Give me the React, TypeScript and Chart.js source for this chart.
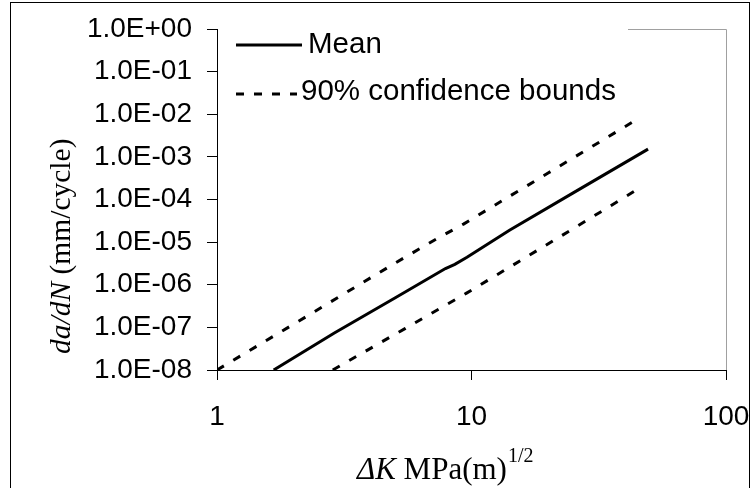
import React, { useEffect, useRef } from "react";
import { Chart, registerables } from "chart.js";

Chart.register(...registerables);

// ---- data ----
const meanX = [1.67, 2.88, 5.0, 7.9, 8.6, 9.6, 14.1, 25, 49.4];
const meanY = [1e-8, 7.3e-8, 4.9e-7, 2.4e-6, 3.0e-6, 4.4e-6, 1.9e-5, 1.41e-4, 1.52e-3];
const upperX = [1.0, 2.06, 5.0, 7.3, 9.3, 20, 45.6];
const upperY = [1e-8, 1.32e-7, 3.2e-6, 1.2e-5, 2.65e-5, 4.17e-4, 8.15e-3];
const lowerX = [2.85, 5.5, 9.56, 25.3, 46.4];
const lowerY = [1e-8, 9.5e-8, 6.35e-7, 2.13e-5, 1.95e-4];

const xTickValues = [1, 10, 100];
const xTickLabels = ["1", "10", "100"];
const yTickValues = [1e-8, 1e-7, 1e-6, 1e-5, 1e-4, 1e-3, 1e-2, 1e-1, 1];
const yTickLabels = [
  "1.0E-08", "1.0E-07", "1.0E-06", "1.0E-05", "1.0E-04",
  "1.0E-03", "1.0E-02", "1.0E-01", "1.0E+00",
];
const legendLabels = ["Mean", "90% confidence bounds"];

const SANS = "'Liberation Sans', Arial, sans-serif";
const SERIF = "'Liberation Serif', 'Times New Roman', serif";

const toPoints = (xs: number[], ys: number[]) => xs.map((x, i) => ({ x, y: ys[i] }));

const decorPlugin = {
  id: "decor",
  afterDraw(chart: any) {
    const { ctx, chartArea } = chart;
    const { left, right, top, bottom } = chartArea;
    ctx.save();
    // outer frame
    ctx.strokeStyle = "#000";
    ctx.lineWidth = 1;
    ctx.setLineDash([]);
    ctx.strokeRect(10.5, 2.5, 739, 495);

    // gray top/right plot border (top partially hidden by legend)
    ctx.strokeStyle = "#a0a0a0";
    ctx.beginPath();
    ctx.moveTo(628, Math.round(top) + 0.5);
    ctx.lineTo(Math.round(right) + 0.5, Math.round(top) + 0.5);
    ctx.lineTo(Math.round(right) + 0.5, Math.round(bottom));
    ctx.stroke();

    // legend
    ctx.strokeStyle = "#000";
    ctx.fillStyle = "#000";
    ctx.lineWidth = 3;
    ctx.beginPath();
    ctx.moveTo(left + 19, 45);
    ctx.lineTo(left + 85, 45);
    ctx.stroke();
    ctx.setLineDash([8, 10]);
    ctx.beginPath();
    ctx.moveTo(left + 19, 94);
    ctx.lineTo(left + 80, 94);
    ctx.stroke();
    ctx.setLineDash([]);
    ctx.font = `29.5px ${SANS}`;
    ctx.textBaseline = "middle";
    ctx.textAlign = "left";
    ctx.fillText(legendLabels[0], left + 91, 45);
    ctx.fillText(legendLabels[1], left + 84, 92);

    // x axis title: ΔK MPa(m)^1/2
    ctx.textBaseline = "alphabetic";
    let x = 357;
    const by = 479;
    ctx.font = `italic 31px ${SERIF}`;
    ctx.fillText("ΔK", x, by);
    x += ctx.measureText("ΔK").width;
    ctx.font = `31px ${SERIF}`;
    ctx.fillText(" MPa(m)", x, by);
    x += ctx.measureText(" MPa(m)").width;
    ctx.font = `20px ${SERIF}`;
    ctx.fillText("1/2", x + 1, by - 17);

    // y axis title: da/dN (mm/cycle)
    ctx.translate(70, 354);
    ctx.rotate(-Math.PI / 2);
    ctx.font = `italic 29.5px ${SERIF}`;
    ctx.fillText("da/dN", 0, 0);
    const w = ctx.measureText("da/dN").width;
    ctx.font = `29.5px ${SERIF}`;
    ctx.fillText(" (mm/cycle)", w, 0);
    ctx.restore();
  },
};

export default function App() {
  const ref = useRef<HTMLCanvasElement | null>(null);
  useEffect(() => {
    if (!ref.current) return;
    const lineDs = (label: string, xs: number[], ys: number[], dash: number[]) => ({
      label,
      data: toPoints(xs, ys),
      showLine: true,
      borderColor: "#000",
      borderWidth: 3,
      borderDash: dash,
      pointRadius: 0,
      tension: 0,
    });
    const chart = new Chart(ref.current, {
      type: "scatter",
      data: {
        datasets: [
          lineDs(legendLabels[0], meanX, meanY, []),
          lineDs(legendLabels[1], upperX, upperY, [8, 11]),
          lineDs(legendLabels[1] + " (lower)", lowerX, lowerY, [8, 11]),
        ],
      },
      options: {
        responsive: false,
        animation: false,
        devicePixelRatio: 1,
        layout: { padding: { left: 0, top: 29, right: 28, bottom: 0 } },
        plugins: {
          legend: { display: false },
          tooltip: { enabled: false },
        },
        scales: {
          x: {
            type: "logarithmic",
            min: 1,
            max: 100,
            afterBuildTicks: (scale: any) => {
              scale.ticks = xTickValues.map((v) => ({ value: v }));
            },
            afterFit: (scale: any) => {
              scale.height = 118;
              scale.paddingLeft = 0;
              scale.paddingRight = 0;
              scale.paddingTop = 0;
              scale.paddingBottom = 0;
            },
            ticks: {
              autoSkip: false,
              maxRotation: 0,
              padding: 20,
              color: "#000",
              font: { family: SANS, size: 28 },
              callback: (_v: any, i: number) => xTickLabels[i],
            },
            grid: {
              display: true,
              drawOnChartArea: false,
              drawTicks: true,
              tickLength: 10,
              color: "#000",
            },
            border: { display: true, color: "#000", width: 1 },
          },
          y: {
            type: "logarithmic",
            min: 1e-8,
            max: 1,
            afterBuildTicks: (scale: any) => {
              scale.ticks = yTickValues.map((v) => ({ value: v }));
            },
            afterFit: (scale: any) => {
              scale.width = 217;
              scale.paddingLeft = 0;
              scale.paddingRight = 0;
              scale.paddingTop = 0;
              scale.paddingBottom = 0;
            },
            ticks: {
              autoSkip: false,
              padding: 15,
              color: "#000",
              font: { family: SANS, size: 28 },
              callback: (_v: any, i: number) => yTickLabels[i],
            },
            grid: {
              display: true,
              drawOnChartArea: false,
              drawTicks: true,
              tickLength: 10,
              color: "#000",
            },
            border: { display: true, color: "#000", width: 1 },
          },
        },
      },
      plugins: [decorPlugin],
    });
    return () => chart.destroy();
  }, []);

  return (
    <div style={{ position: "fixed", left: 0, top: 0, width: 754, height: 488, background: "#fff" }}>
      <canvas ref={ref} width={754} height={488} style={{ width: 754, height: 488, display: "block" }} />
    </div>
  );
}
